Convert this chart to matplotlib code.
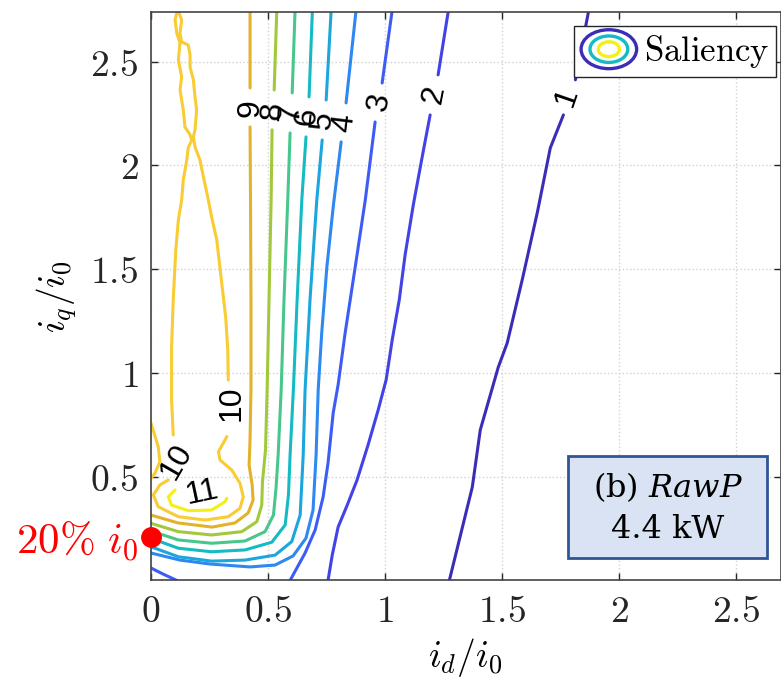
import numpy as np
import matplotlib.pyplot as plt
from matplotlib.patches import Ellipse, Rectangle
from matplotlib.legend_handler import HandlerBase
from matplotlib.lines import Line2D

plt.rcParams['mathtext.fontset'] = 'cm'

nan = np.nan

# saliency contour lines (nan = gap for a label / new piece)
lvl1_x = [1.868, 1.812, nan, 1.761, 1.705, 1.650, 1.585, 1.521, 1.483, 1.406, 1.372, 1.274]
lvl1_y = [2.74, 2.412, nan, 2.243, 2.084, 1.775, 1.448, 1.144, 1.028, 0.725, 0.450, 0.0]

lvl2_x = [1.269, 1.226, nan, 1.192, 1.162, 1.120, 1.085, 1.060, 1.030, 1.004, 0.970, 0.927, 0.880, 0.838, 0.799, 0.774, 0.756]
lvl2_y = [2.74, 2.436, nan, 2.243, 2.065, 1.809, 1.568, 1.351, 1.159, 0.966, 0.821, 0.653, 0.484, 0.363, 0.257, 0.122, 0.0]

lvl3_x = [1.029, 0.987, nan, 0.957, 0.915, 0.872, 0.829, 0.799, 0.778, 0.756, 0.735, 0.701, 0.658, 0.594, nan, 0.0, 0.051, 0.110]
lvl3_y = [2.74, 2.397, nan, 2.209, 1.833, 1.510, 1.192, 0.942, 0.807, 0.566, 0.402, 0.243, 0.132, 0.0, nan, 0.060, 0.031, 0.0]

lvl4_x = [0.875, 0.833, nan, 0.812, 0.779, 0.751, 0.729, 0.714, 0.705, 0.692, 0.662, 0.607, 0.530, 0.423, 0.252, 0.124, 0.0]
lvl4_y = [2.74, 2.301, nan, 2.113, 1.809, 1.510, 1.192, 0.918, 0.604, 0.339, 0.204, 0.118, 0.074, 0.065, 0.079, 0.098, 0.132]

lvl5_x = [0.769, 0.748, nan, 0.731, 0.708, 0.679, 0.658, 0.650, 0.637, 0.601, 0.530, 0.402, 0.259, 0.117, 0.0]
lvl5_y = [2.74, 2.315, nan, 2.122, 1.833, 1.351, 0.918, 0.604, 0.315, 0.187, 0.122, 0.098, 0.093, 0.114, 0.162]

lvl6_x = [0.689, 0.675, nan, 0.662, 0.644, 0.624, 0.608, 0.594, 0.587, 0.573, 0.516, 0.402, 0.259, 0.117, 0.0]
lvl6_y = [2.74, 2.330, nan, 2.137, 1.833, 1.351, 0.918, 0.604, 0.412, 0.267, 0.184, 0.147, 0.138, 0.155, 0.203]

lvl7_x = [0.615, 0.603, nan, 0.594, 0.584, 0.568, 0.556, 0.543, 0.534, 0.523, 0.487, 0.402, 0.259, 0.117, 0.0]
lvl7_y = [2.74, 2.349, nan, 2.156, 1.833, 1.351, 0.918, 0.604, 0.445, 0.315, 0.235, 0.190, 0.179, 0.195, 0.238]

lvl8_x = [0.537, 0.526, nan, 0.517, 0.513, 0.504, 0.496, 0.489, 0.476, 0.473, 0.452, 0.388, 0.259, 0.117, 0.0]
lvl8_y = [2.74, 2.363, nan, 2.171, 1.833, 1.351, 0.918, 0.628, 0.474, 0.363, 0.283, 0.235, 0.219, 0.235, 0.275]

lvl9_x = [0.423, 0.423, nan, 0.423, 0.425, 0.427, 0.427, 0.423, 0.419, 0.432, 0.436, 0.415, 0.359, 0.261, 0.115, 0.0]
lvl9_y = [2.74, 2.373, nan, 2.185, 1.833, 1.351, 0.918, 0.677, 0.556, 0.460, 0.387, 0.325, 0.277, 0.257, 0.277, 0.315]

lvl10_x = [0.095, 0.088, 0.088, 0.095, 0.106, 0.117, 0.131, 0.138, 0.153, 0.159, 0.174, 0.167, 0.145, 0.138,
           0.124, 0.131, 0.117, 0.124, 0.110, 0.103, 0.111, 0.118, 0.131, 0.124, 0.131, 0.159, 0.167, 0.167,
           0.181, 0.188, 0.195, 0.188, 0.181, 0.188, 0.209, 0.224, 0.245, 0.259, 0.281, 0.302, 0.319, 0.328, 0.330,
           nan,
           0.074, 0.038, 0.010, 0.031, 0.117, 0.231, 0.330, 0.380, 0.394, 0.380, 0.345, 0.295, 0.288, 0.324,
           nan,
           0.0, 0.031, 0.038, 0.017, 0.0]
lvl10_y = [0.701, 0.869, 1.125, 1.351, 1.592, 1.737, 1.833, 1.930, 2.026, 2.084, 2.122, 2.147, 2.185, 2.267,
           2.363, 2.426, 2.508, 2.590, 2.638, 2.701, 2.74, 2.74, 2.701, 2.638, 2.595, 2.580, 2.532, 2.474,
           2.412, 2.330, 2.267, 2.171, 2.137, 2.089, 2.026, 1.944, 1.833, 1.751, 1.640, 1.433, 1.269, 1.110, 0.966,
           nan,
           0.484, 0.460, 0.412, 0.355, 0.307, 0.291, 0.307, 0.347, 0.403, 0.468, 0.532, 0.580, 0.620, 0.693,
           nan,
           0.759, 0.644, 0.572, 0.516, 0.492]

lvl11_x = [0.103, 0.074, 0.088, 0.159, 0.259, 0.316, 0.324]
lvl11_y = [0.436, 0.403, 0.363, 0.336, 0.339, 0.379, 0.396]

levels_x = [lvl1_x, lvl2_x, lvl3_x, lvl4_x, lvl5_x, lvl6_x, lvl7_x, lvl8_x, lvl9_x, lvl10_x, lvl11_x]
levels_y = [lvl1_y, lvl2_y, lvl3_y, lvl4_y, lvl5_y, lvl6_y, lvl7_y, lvl8_y, lvl9_y, lvl10_y, lvl11_y]

# inline contour labels
lab_text = ['1', '2', '3', '4', '5', '6', '7', '8', '9', '10', '10', '11']
lab_x = [1.778, 1.209, 0.974, 0.825, 0.735, 0.667, 0.598, 0.521, 0.427, 0.346, 0.110, 0.218]
lab_y = [2.330, 2.339, 2.306, 2.204, 2.219, 2.233, 2.253, 2.262, 2.277, 0.855, 0.572, 0.421]
lab_rot = [71, 79, 80, 83, 84, 86, 87, 87, 90, 90, 60, 12]

xticks = [0, 0.5, 1, 1.5, 2, 2.5]
yticks = [0.5, 1, 1.5, 2, 2.5]

dot_x = [0]
dot_y = [0.21]

# parula-like colours for levels 1..11
colors = ['#3b2db8', '#4242e6', '#3d5cf5', '#2e88f2', '#1ba6de', '#14bbc2',
          '#48c68c', '#a2c83c', '#e3b22c', '#f9cc33', '#f4ef14']

fig = plt.figure(figsize=(7.81, 6.89), dpi=100)
ax = fig.add_axes([0.1933, 0.1576, 0.8061, 0.825])

for xs, ys, c in zip(levels_x, levels_y, colors):
    ax.plot(xs, ys, color=c, lw=2.2, solid_joinstyle='round', solid_capstyle='round')

for t, x, y, r in zip(lab_text, lab_x, lab_y, lab_rot):
    ax.text(x, y, t, rotation=r, ha='center', va='center', fontsize=23,
            family='Liberation Sans', rotation_mode='anchor', zorder=4)

ax.plot(dot_x, dot_y, 'o', color='red', ms=14, clip_on=False, zorder=6)
ax.text(-0.056, 0.128, r'$20\%\ i_0$', color='red', fontsize=31, ha='right', va='baseline')

ax.set_xlim(0, 2.688)
ax.set_ylim(0, 2.739)
ax.set_xticks(xticks)
ax.set_xticklabels(['$%g$' % v for v in xticks])
ax.set_yticks(yticks)
ax.set_yticklabels(['$%g$' % v for v in yticks])
ax.tick_params(direction='in', length=5, width=1, top=True, right=True,
               labelsize=27, colors='#262626')
ax.tick_params(axis='x', pad=10)
ax.tick_params(axis='y', pad=9)
for s in ax.spines.values():
    s.set_color('#444444')
    s.set_linewidth(1.2)
ax.grid(True, linestyle=':', color='#d2d2d2', lw=1)
ax.set_axisbelow(True)

ax.set_xlabel(r'$i_d/i_0$', fontsize=27, labelpad=4)
ax.set_ylabel(r'$i_q/i_0$', fontsize=27, labelpad=8)


class NestedEllipses(HandlerBase):
    def create_artists(self, legend, orig_handle, xdescent, ydescent,
                       width, height, fontsize, trans):
        cx = 0.5 * width - xdescent
        cy = 0.5 * height - ydescent
        out = []
        for f, c in zip([1.0, 0.68, 0.38], [colors[0], colors[5], colors[10]]):
            out.append(Ellipse((cx, cy), width * f, height * 1.3 * f, fill=False,
                               edgecolor=c, lw=2.4, transform=trans))
        return out


proxy = Line2D([], [])
leg = ax.legend([proxy], [r'$\mathrm{Saliency}$'], handler_map={proxy: NestedEllipses()},
                loc='upper right', bbox_to_anchor=(0.993, 0.975), borderaxespad=0,
                fontsize=25, fancybox=False, framealpha=1, edgecolor='#262626',
                handlelength=1.6, handleheight=0.95, handletextpad=0.2, borderpad=0.2)
leg.get_frame().set_linewidth(1.0)

# annotation box
ax.add_patch(Rectangle((1.782, 0.108), 0.850, 0.492, facecolor='#dae3f3',
                       edgecolor='#2f5597', lw=2, zorder=5))
ax.text(2.207, 0.450, r'(b) $\mathit{RawP}$', ha='center', va='center', fontsize=23,
        family='DejaVu Serif', math_fontfamily='dejavuserif', zorder=6)
ax.text(2.207, 0.245, '4.4 kW', ha='center', va='center', fontsize=23,
        family='DejaVu Serif', zorder=6)

fig.savefig('out.png', dpi=100)
